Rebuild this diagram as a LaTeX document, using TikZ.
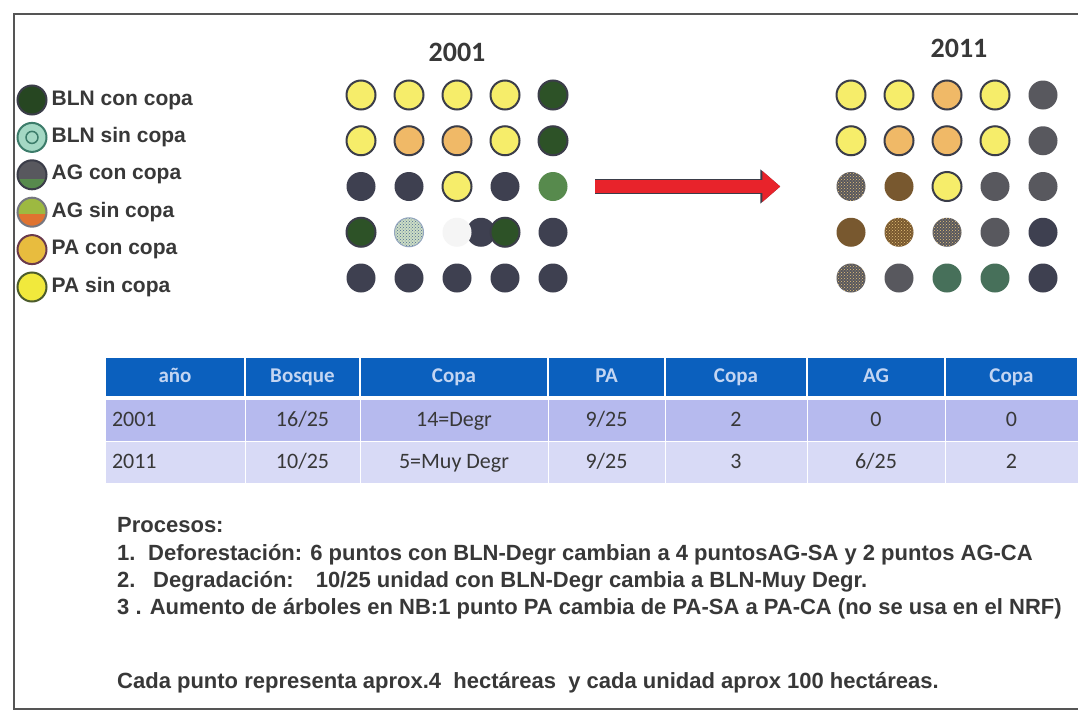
\documentclass[tikz,border=0pt]{standalone}
\usepackage{fontspec}
\setmainfont{Carlito}
\newfontfamily\arial{Liberation Sans}
\usepackage{tikz}
\usetikzlibrary{arrows.meta,patterns,positioning}
\definecolor{amarillo}{HTML}{F6ED6A}
\definecolor{naranja}{HTML}{F0B967}
\definecolor{borde}{HTML}{3B3D49}
\definecolor{marino}{HTML}{3E4050}
\definecolor{gris}{HTML}{58585E}
\definecolor{verdeosc}{HTML}{2D5227}
\definecolor{verde}{HTML}{578A4D}
\definecolor{verdegris}{HTML}{47705A}
\definecolor{cafe}{HTML}{78582F}
\definecolor{tostado}{HTML}{E6C27A}
\definecolor{palido}{HTML}{CCDDC4}
\definecolor{azulpunto}{HTML}{4C6A94}
\definecolor{rojo}{HTML}{E8232B}
\definecolor{cabecera}{HTML}{0B60BE}
\definecolor{textocab}{HTML}{C3D5F2}
\definecolor{fila1}{HTML}{B6BAEE}
\definecolor{fila2}{HTML}{D8DAF6}
\definecolor{letra}{HTML}{383838}
\definecolor{marco}{HTML}{555555}
\definecolor{turquesa}{HTML}{A4D8C4}
\definecolor{turqborde}{HTML}{3C7C6A}
\definecolor{dorado}{HTML}{E8BC3E}
\definecolor{ciruela}{HTML}{6A3A4C}
\definecolor{limon}{HTML}{F1E93C}
\definecolor{oliva}{HTML}{4C5C2C}
\definecolor{zanahoria}{HTML}{DF7330}
\definecolor{pasto}{HTML}{9DB941}
\tikzstyle{punto}=[
	circle,
	inner sep=0,
	minimum size=29]
\tikzstyle{pas}=[punto,fill=amarillo,draw=borde,line width=2]
\tikzstyle{pac}=[punto,fill=naranja,draw=borde,line width=2]
\tikzstyle{bln}=[punto,fill=verdeosc,draw=borde,line width=2]
\tikzstyle{bls}=[punto,preaction={fill=palido},pattern=crosshatch dots,pattern color=azulpunto,draw=azulpunto!60,line width=1]
\tikzstyle{mar}=[punto,fill=marino]
\tikzstyle{ver}=[punto,fill=verde]
\tikzstyle{gri}=[punto,fill=gris]
\tikzstyle{caf}=[punto,fill=cafe]
\tikzstyle{vgr}=[punto,fill=verdegris]
\tikzstyle{ags}=[punto,preaction={fill=gris},pattern=crosshatch dots,pattern color=tostado]
\tikzstyle{cfs}=[punto,preaction={fill=cafe},pattern=crosshatch dots,pattern color=tostado]
\tikzstyle{hueco}=[punto,fill=black!4]
\tikzstyle{lbcc}=[punto,fill=verdeosc!85!black,draw=borde,line width=2]
\tikzstyle{lbsc}=[punto,fill=turquesa,draw=turqborde,line width=2,
	path picture={\draw[turqborde,line width=1.5pt] (path picture bounding box.center) circle (6pt);}]
\tikzstyle{lacc}=[punto,fill=gris,draw=borde,line width=2,
	path picture={\fill[verde] ([yshift=-4pt]path picture bounding box.west) rectangle (path picture bounding box.south east);}]
\tikzstyle{lasc}=[punto,fill=zanahoria,draw=borde!70,line width=2,
	path picture={\fill[pasto] (path picture bounding box.north west) rectangle ([yshift=-2pt]path picture bounding box.east);}]
\tikzstyle{lpcc}=[punto,fill=dorado,draw=ciruela,line width=2]
\tikzstyle{lpsc}=[punto,fill=limon,draw=oliva,line width=2]
\tikzstyle{leyenda}=[
	font=\arial\bfseries\fontsize{21}{21}\selectfont,
	text=letra,
	inner sep=0]
\tikzstyle{anio}=[
	font=\bfseries\fontsize{28}{28}\selectfont,
	text=letra]
\tikzstyle{cab}=[
	rectangle,
	fill=cabecera,
	draw=white,
	line width=1.5,
	outer sep=0,
	minimum height=40,
	text=textocab,
	font=\bfseries\fontsize{21}{21}\selectfont,
	text height=14pt,
	text depth=4pt]
\tikzstyle{fila}=[
	rectangle,
	draw=white,
	line width=1,
	outer sep=0,
	minimum height=42,
	text=letra,
	font=\fontsize{22}{22}\selectfont,
	text height=15pt,
	text depth=3pt]
\tikzstyle{texto}=[
	font=\arial\bfseries\fontsize{22}{22}\selectfont,
	text=letra,
	inner sep=0,
	anchor=base west]
\tikzstyle{flecha}=[
	draw=rojo,
	line width=13pt,
	-{Triangle[length=18pt,width=30pt]},
	preaction={draw=borde,line width=15pt,-{Triangle[length=20pt,width=33pt]}},
	shorten <=42pt,
	shorten >=56pt]

\begin{document}
\begin{tikzpicture}[x=1pt,y=-1pt]
	\useasboundingbox (0,0) rectangle (1078,712);
	\fill[white] (0,0) rectangle (1078,712);
	\draw[marco,line width=2] (1078,14) -- (14,14) -- (14,709) -- (1078,709);
	% leyenda
	\node[lbcc] (l1) at (32,100) {};
	\node[lbsc] (l2) [below=6.4pt of l1] {};
	\node[lacc] (l3) [below=6.4pt of l2] {};
	\node[lasc] (l4) [below=6.4pt of l3] {};
	\node[lpcc] (l5) [below=6.4pt of l4] {};
	\node[lpsc] (l6) [below=6.4pt of l5] {};
	\node[leyenda] (e1) [right=4pt of l1] {BLN con copa};
	\node[leyenda] (e2) [right=4pt of l2] {BLN sin copa};
	\node[leyenda] (e3) [right=4pt of l3] {AG con copa};
	\node[leyenda] (e4) [right=4pt of l4] {AG sin copa};
	\node[leyenda] (e5) [right=4pt of l5] {PA con copa};
	\node[leyenda] (e6) [right=4pt of l6] {PA sin copa};
	% puntos 2001
	\node[mar] (a4x) at (481,{49.25+45.75*4}) {};
	\foreach \fila [count=\r] in {{pas,pas,pas,pas,bln},{pas,pac,pac,pas,bln},{mar,mar,pas,mar,ver},{bln,bls,hueco,bln,mar},{mar,mar,mar,mar,mar}}
		\foreach \s [count=\c] in \fila
			\node[\s] (a\r\c) at ({313+48*\c},{49.25+45.75*\r}) {};
	% puntos 2011
	\foreach \fila [count=\r] in {{pas,pas,pac,pas,gri},{pas,pac,pac,pas,gri},{ags,caf,pas,gri,gri},{caf,cfs,ags,gri,mar},{ags,gri,vgr,vgr,mar}}
		\foreach \s [count=\c] in \fila
			\node[\s] (b\r\c) at ({803+48*\c},{49.25+45.75*\r}) {};
	\node[anio] (t1) [above=14pt of a13] {2001};
	\node[anio] (t2) [above=18pt of b13,xshift=12pt] {2011};
	\draw[flecha] (b31 -| a35) -- (b31);
	% tabla
	\foreach \cx/\w/\t [count=\i] in {175/140/año,302.5/115/Bosque,454/188/Copa,606.5/117/PA,736/142/Copa,876/138/AG,1011.5/133/Copa}
		\node[cab,minimum width=\w] (h\i) at (\cx,377) {\t};
	\node[fila,fill=fila1,minimum width=140,text width=126pt,align=left] (u1) at (175,420) {2001};
	\foreach \cx/\w/\t [count=\i from 2] in {302.5/115/{16/25},454/188/{14=Degr},606.5/117/{9/25},736/142/2,876/138/0,1011.5/133/0}
		\node[fila,fill=fila1,minimum width=\w] (u\i) at (\cx,420) {\t};
	\node[fila,fill=fila2,minimum width=140,text width=126pt,align=left] (v1) at (175,462) {2011};
	\foreach \cx/\w/\t [count=\i from 2] in {302.5/115/{10/25},454/188/{5=Muy Degr},606.5/117/{9/25},736/142/3,876/138/{6/25},1011.5/133/2}
		\node[fila,fill=fila2,minimum width=\w] (v\i) at (\cx,462) {\t};
	% procesos
	\node[texto] (p0) at (117,532) {Procesos:};
	\node[texto] (p1) [below=28pt of p0.base west,anchor=base west] {\makebox[31pt][l]{1.}Deforestación: 6 puntos con BLN-Degr cambian a 4 puntosAG-SA y 2 puntos AG-CA};
	\node[texto] (p2) [below=27pt of p1.base west,anchor=base west] {\makebox[36pt][l]{2.}Degradación:\quad 10/25 unidad con BLN-Degr cambia a BLN-Muy Degr.};
	\node[texto] (p3) [below=27pt of p2.base west,anchor=base west] {3 . Aumento de árboles en NB:1 punto PA cambia de PA-SA a PA-CA (no se usa en el NRF)};
	\node[texto] (p4) [below=74pt of p3.base west,anchor=base west] {Cada punto representa aprox.4\ \ hectáreas\ \ y cada unidad aprox 100 hectáreas.};
\end{tikzpicture}
\end{document}
